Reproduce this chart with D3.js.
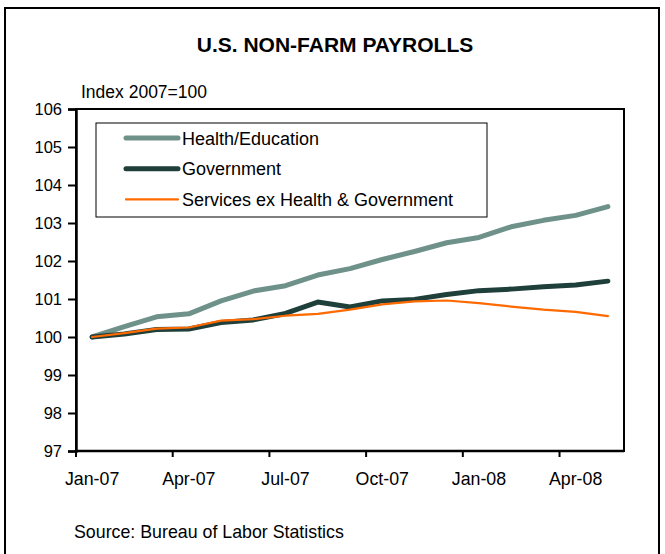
<!DOCTYPE html>
<html>
<head>
<meta charset="utf-8">
<script src="https://cdn.jsdelivr.net/npm/d3@7"></script>
<style>
  body { margin: 0; background: #fff; }
  svg { display: block; font-family: "Liberation Sans", Arial, sans-serif; }
</style>
</head>
<body>
<svg id="chart" width="665" height="554"></svg>
<script>
const months = ["Jan-07", "Feb-07", "Mar-07", "Apr-07", "May-07", "Jun-07", "Jul-07", "Aug-07", "Sep-07",
  "Oct-07", "Nov-07", "Dec-07", "Jan-08", "Feb-08", "Mar-08", "Apr-08", "May-08"];
const healthEdu = [100, 100.27, 100.53, 100.61, 100.95, 101.21, 101.35, 101.63, 101.8, 102.04, 102.25,
  102.48, 102.62, 102.9, 103.07, 103.2, 103.43];
const government = [100, 100.08, 100.2, 100.21, 100.38, 100.45, 100.62, 100.92, 100.79, 100.95, 100.99,
  101.12, 101.22, 101.26, 101.32, 101.37, 101.47];
const servicesEx = [100, 100.1, 100.22, 100.25, 100.43, 100.47, 100.56, 100.61, 100.72, 100.86, 100.94,
  100.96, 100.89, 100.8, 100.72, 100.66, 100.55];
const yTicks = [97, 98, 99, 100, 101, 102, 103, 104, 105, 106];
const xTickLabels = ["Jan-07", "Apr-07", "Jul-07", "Oct-07", "Jan-08", "Apr-08"];

const series = [
  { name: "Health/Education", values: healthEdu, color: "#6e9189", width: 5 },
  { name: "Government", values: government, color: "#1e3f3a", width: 5 },
  { name: "Services ex Health & Government", values: servicesEx, color: "#ff6a00", width: 2.2 }
];

const svg = d3.select("#chart");
const margin = { top: 109, right: 41, bottom: 103, left: 76 };
const width = 665 - margin.left - margin.right;
const height = 554 - margin.top - margin.bottom;

// outer frame
svg.append("rect")
  .attr("x", 5).attr("y", 8).attr("width", 654).attr("height", 560)
  .attr("fill", "none").attr("stroke", "#000").attr("stroke-width", 2);

svg.append("text")
  .attr("x", 335).attr("y", 52)
  .attr("text-anchor", "middle")
  .style("font-size", "21px").style("font-weight", "bold")
  .text("U.S. NON-FARM PAYROLLS");

svg.append("text")
  .attr("x", 81).attr("y", 98)
  .style("font-size", "17.5px")
  .text("Index 2007=100");

svg.append("text")
  .attr("x", 74).attr("y", 538)
  .style("font-size", "17.8px")
  .text("Source: Bureau of Labor Statistics");

const g = svg.append("g").attr("transform", `translate(${margin.left},${margin.top})`);

const x = d3.scaleBand().domain(months).range([0, width]);
const y = d3.scaleLinear().domain([97, 106]).range([height, 0]);

// plot frame
g.append("rect")
  .attr("width", width).attr("height", height)
  .attr("fill", "none").attr("stroke", "#000").attr("stroke-width", 2);

// y axis
const yAxis = d3.axisLeft(y).tickValues(yTicks).tickSize(8).tickPadding(6).tickFormat(d3.format("d"));
const ya = g.append("g").call(yAxis);
ya.select(".domain").attr("stroke-width", 2.5);
ya.selectAll(".tick line").attr("stroke-width", 2);
ya.selectAll("text").attr("fill", "#000").style("font-size", "16.5px").style("font-family", "Liberation Sans, Arial, sans-serif");

// x axis: ticks on category boundaries, labels centred on category
const xa = g.append("g").attr("transform", `translate(0,${height})`);
xa.append("line").attr("x1", 0).attr("x2", width).attr("stroke", "#000").attr("stroke-width", 2.5);
xa.selectAll("line.tk")
  .data(xTickLabels)
  .enter().append("line")
  .attr("class", "tk")
  .attr("x1", d => x(d)).attr("x2", d => x(d))
  .attr("y1", 0).attr("y2", 6)
  .attr("stroke", "#000").attr("stroke-width", 2);
xa.selectAll("text")
  .data(xTickLabels)
  .enter().append("text")
  .attr("x", d => x(d) + x.bandwidth() / 2)
  .attr("y", 34)
  .attr("text-anchor", "middle")
  .style("font-size", "17.8px")
  .text(d => d);

// lines
const line = d3.line()
  .x((d, i) => x(months[i]) + x.bandwidth() / 2)
  .y(d => y(d));

g.selectAll("path.series")
  .data(series)
  .enter().append("path")
  .attr("class", "series")
  .attr("d", d => line(d.values))
  .attr("fill", "none")
  .attr("stroke", d => d.color)
  .attr("stroke-width", d => d.width)
  .attr("stroke-linejoin", "round")
  .attr("stroke-linecap", "round");

// legend
const legend = svg.append("g").attr("transform", "translate(96,123)");
legend.append("rect")
  .attr("width", 391).attr("height", 94)
  .attr("fill", "#fff").attr("stroke", "#000").attr("stroke-width", 1);

const li = legend.selectAll("g.item")
  .data(series)
  .enter().append("g")
  .attr("class", "item")
  .attr("transform", (d, i) => `translate(0,${15 + i * 30.7})`);
li.append("line")
  .attr("x1", 30).attr("x2", 82)
  .attr("stroke", d => d.color)
  .attr("stroke-width", d => d.width)
  .attr("stroke-linecap", "round");
li.append("text")
  .attr("x", 86).attr("y", 6.5)
  .style("font-size", "18px")
  .text(d => d.name);
</script>
</body>
</html>
